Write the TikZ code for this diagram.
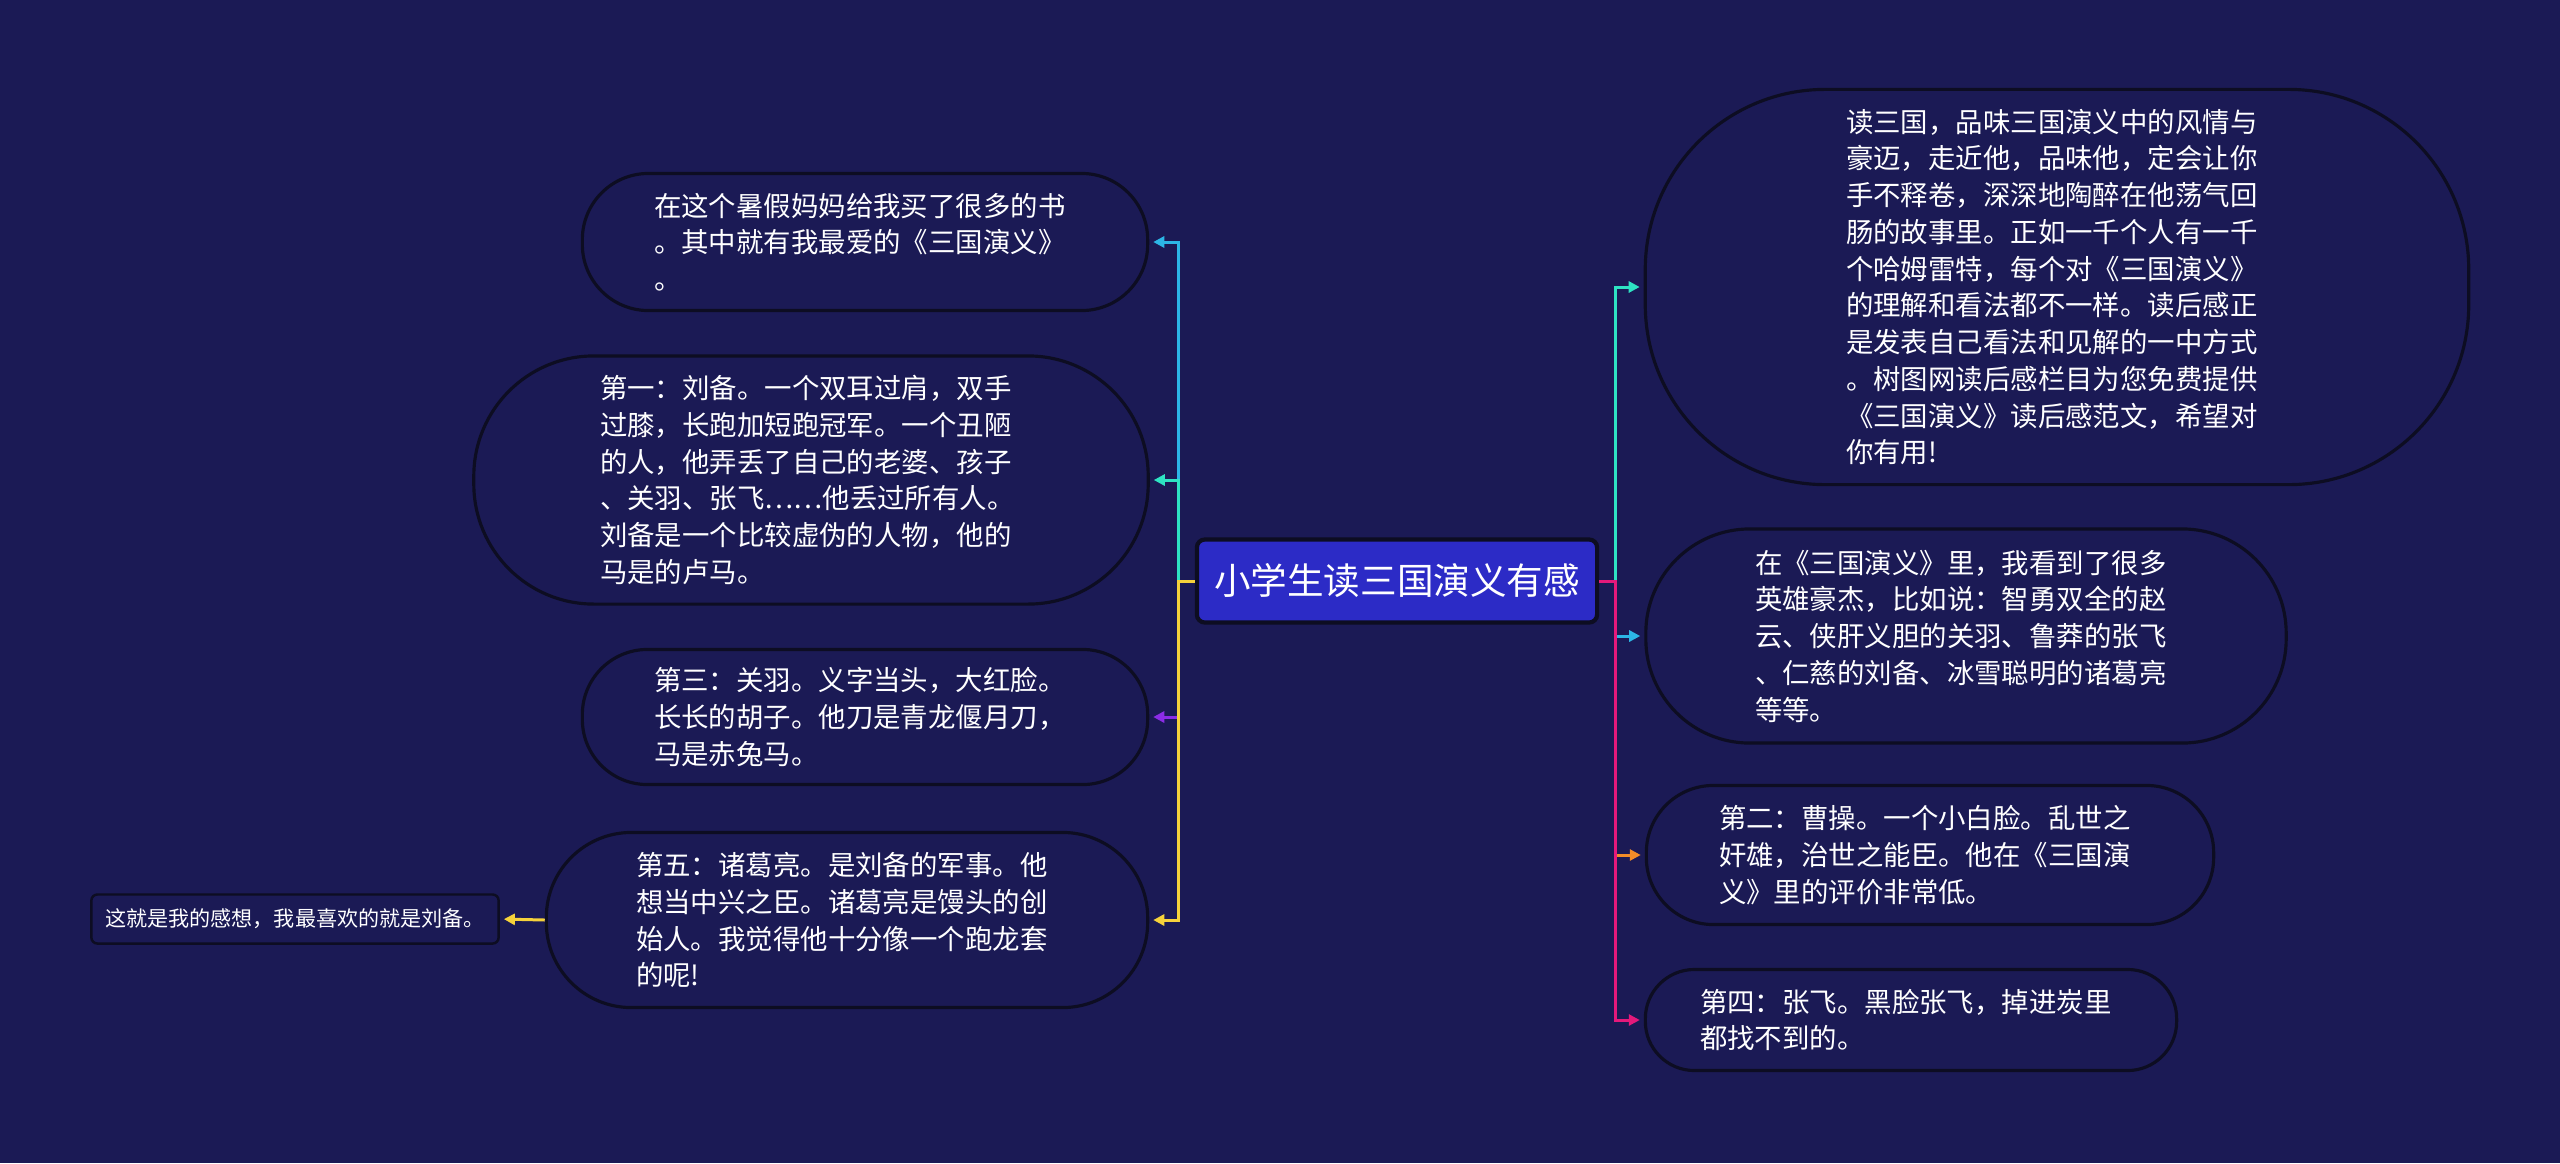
\documentclass[tikz,border=0pt]{standalone}
\usepackage{fontspec}
\setmainfont{Noto Sans CJK SC}
\usepackage{xcolor}
\usetikzlibrary{arrows.meta}

\definecolor{bgc}{HTML}{1B1A55}
\definecolor{edgec}{HTML}{0D0D22}
\definecolor{topicc}{HTML}{2C2BC6}
\definecolor{skyc}{HTML}{2CB6E6}
\definecolor{tealc}{HTML}{2EE3C3}
\definecolor{violetc}{HTML}{8B2CE6}
\definecolor{goldc}{HTML}{F6D23B}
\definecolor{orangec}{HTML}{F28C28}
\definecolor{rosec}{HTML}{E5197B}

\begin{document}
\begin{tikzpicture}[x=0.01cm,y=-0.01cm,
 topic/.style={draw=edgec,line width=1.2pt,fill=topicc,text=white,rounded corners=0.08cm,
   font=\fontsize{10.4}{12}\selectfont,minimum width=4cm,minimum height=0.83cm,inner sep=0pt},
 bubble/.style={draw=edgec,line width=0.9pt,fill=bgc,text=white,align=left,text width=120pt,
   font=\fontsize{7.8}{10.45}\selectfont,inner sep=0pt},
 leaf/.style={draw=edgec,line width=0.7pt,fill=bgc,text=white,rounded corners=0.06cm,
   font=\fontsize{6}{7}\selectfont,minimum width=4.07cm,minimum height=0.49cm,inner sep=0pt},
 link/.style={line width=0.85pt,-{Triangle[length=1.1mm,width=1.1mm]},shorten >=0.4mm}
]
\fill[bgc] (0,0) rectangle (2560,1163);
\useasboundingbox (0,0) rectangle (2560,1163);

\node[topic] (c) at (1397,581) {小学生读三国演义有感};

\node[bubble,minimum width=5.65cm,minimum height=1.37cm,rounded corners=0.66cm] (l1) at (865,242)
 {在这个暑假妈妈给我买了很多的书\\。其中就有我最爱的《三国演义》\\。};
\node[bubble,minimum width=6.74cm,minimum height=2.48cm,rounded corners=1.2cm] (l2) at (811,480)
 {第一：刘备。一个双耳过肩，双手\\过膝，长跑加短跑冠军。一个丑陋\\的人，他弄丢了自己的老婆、孩子\\、关羽、张飞……他丢过所有人。\\刘备是一个比较虚伪的人物，他的\\马是的卢马。};
\node[bubble,minimum width=5.65cm,minimum height=1.35cm,rounded corners=0.65cm] (l3) at (865,717)
 {第三：关羽。义字当头，大红脸。\\长长的胡子。他刀是青龙偃月刀，\\马是赤兔马。};
\node[bubble,minimum width=6.01cm,minimum height=1.75cm,rounded corners=0.85cm] (l4) at (847,920)
 {第五：诸葛亮。是刘备的军事。他\\想当中兴之臣。诸葛亮是馒头的创\\始人。我觉得他十分像一个跑龙套\\的呢!};
\node[leaf] (l5) at (295,919) {这就是我的感想，我最喜欢的就是刘备。};

\node[bubble,minimum width=8.23cm,minimum height=3.95cm,rounded corners=1.8cm] (r1) at (2057,287)
 {读三国，品味三国演义中的风情与\\豪迈，走近他，品味他，定会让你\\手不释卷，深深地陶醉在他荡气回\\肠的故事里。正如一千个人有一千\\个哈姆雷特，每个对《三国演义》\\的理解和看法都不一样。读后感正\\是发表自己看法和见解的一中方式\\。树图网读后感栏目为您免费提供\\《三国演义》读后感范文，希望对\\你有用!};
\node[bubble,minimum width=6.4cm,minimum height=2.14cm,rounded corners=1.04cm] (r2) at (1966,636)
 {在《三国演义》里，我看到了很多\\英雄豪杰，比如说：智勇双全的赵\\云、侠肝义胆的关羽、鲁莽的张飞\\、仁慈的刘备、冰雪聪明的诸葛亮\\等等。};
\node[bubble,minimum width=5.67cm,minimum height=1.39cm,rounded corners=0.67cm] (r3) at (1930,855)
 {第二：曹操。一个小白脸。乱世之\\奸雄，治世之能臣。他在《三国演\\义》里的评价非常低。};
\node[bubble,minimum width=5.31cm,minimum height=1.01cm,rounded corners=0.49cm] (r4) at (1911,1020)
 {第四：张飞。黑脸张飞，掉进炭里\\都找不到的。};

\coordinate (lt) at (1178,581);
\coordinate (rt) at (1615,581);
\foreach \n/\c in {l1/skyc,l2/tealc,l3/violetc,l4/goldc}
 \draw[link,\c] (c.west) -- (lt) |- (\n.east);
\foreach \n/\c in {r1/tealc,r2/skyc,r3/orangec,r4/rosec}
 \draw[link,\c] (c.east) -- (rt) |- (\n.west);
\draw[link,goldc] (l4.west) -- (l5.east);
\end{tikzpicture}
\end{document}
